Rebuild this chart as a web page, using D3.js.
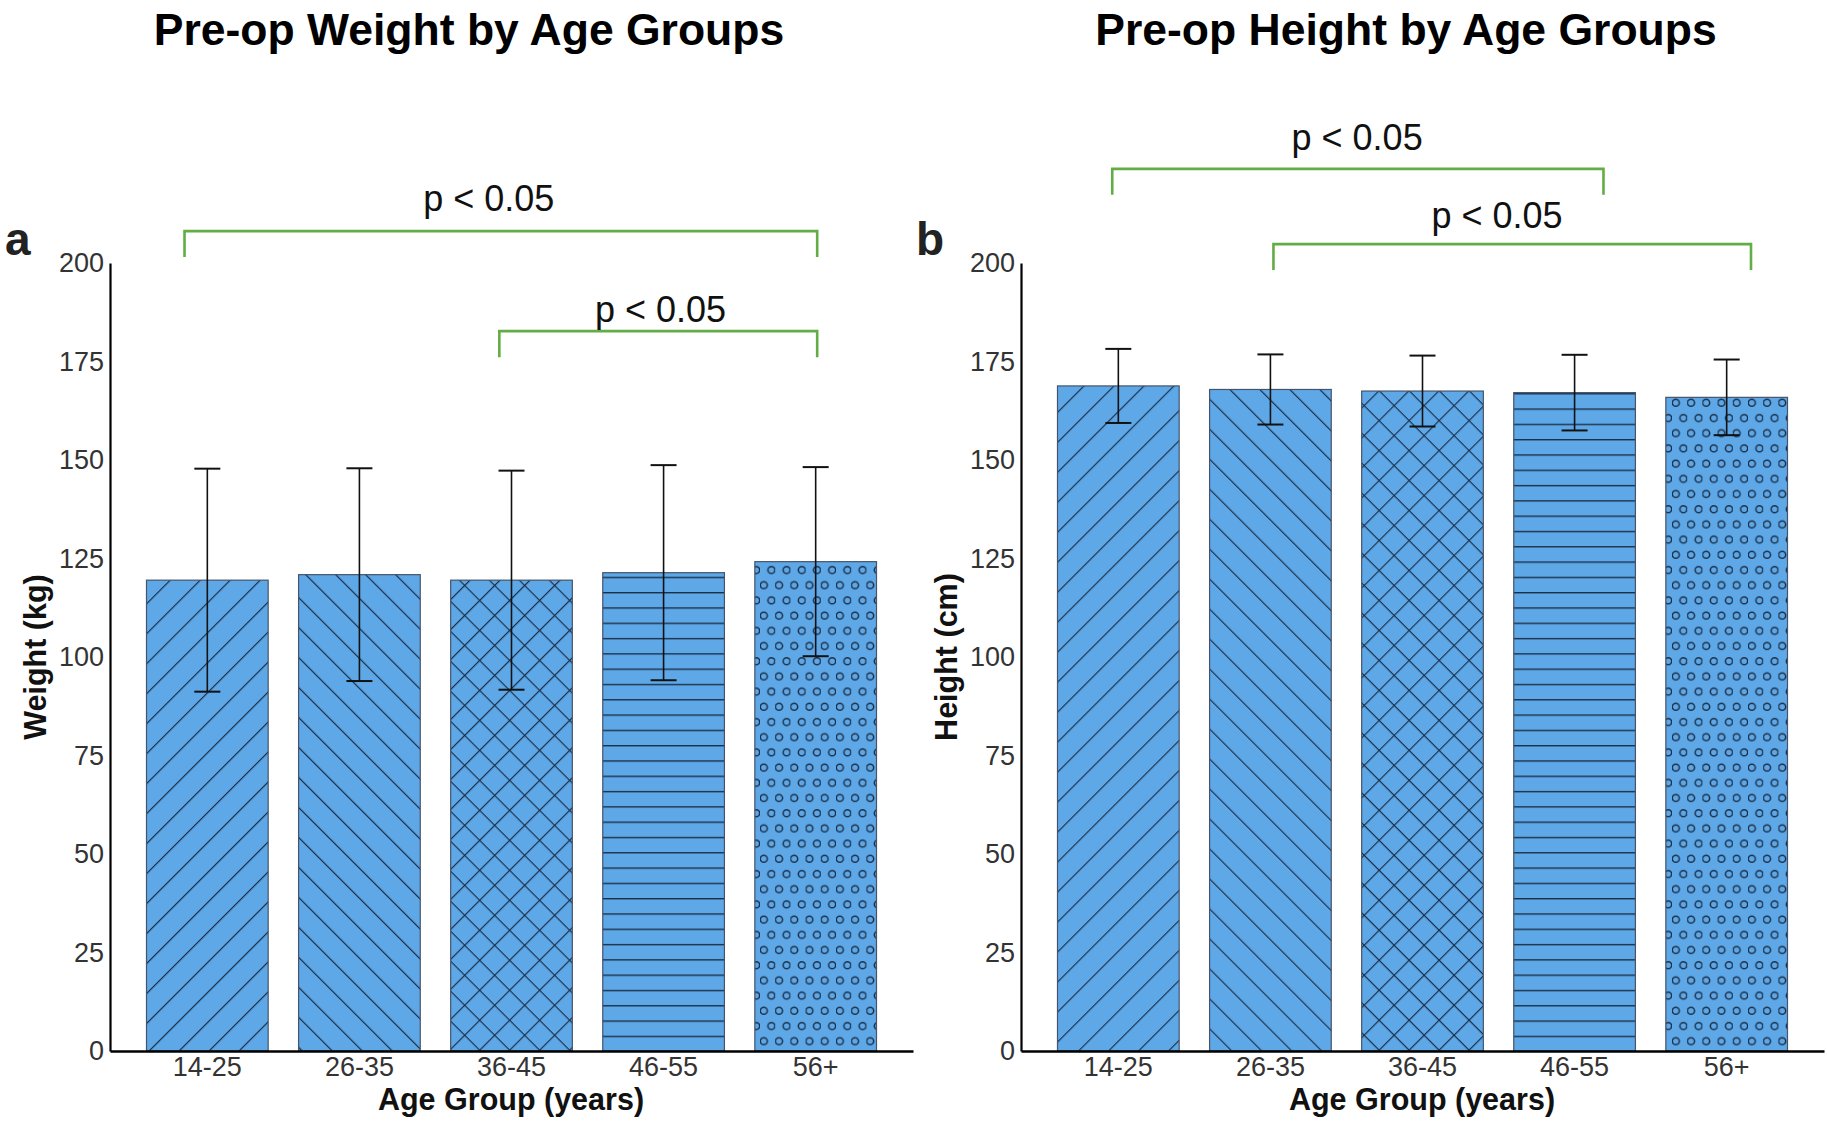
<!DOCTYPE html>
<html>
<head>
<meta charset="utf-8">
<script src="https://cdn.jsdelivr.net/npm/d3@7"></script>
<style>
  body { margin: 0; background: #fff; }
  text { font-family: "Liberation Sans", Arial, sans-serif; }
</style>
</head>
<body>
<svg id="chart" width="1827" height="1124"></svg>
<script>
// age groups on the x axis
var ageGroups = ["14-25", "26-35", "36-45", "46-55", "56+"];

// pre-op weight (kg), mean and sd
var weightMeans = [119.5, 120.9, 119.5, 121.4, 124.2];
var weightSD = [28.3, 27.0, 27.8, 27.3, 24.0];

// pre-op height (cm), mean and sd
var heightMeans = [168.8, 167.9, 167.5, 167.1, 165.9];
var heightSD = [9.4, 8.9, 9.0, 9.6, 9.6];

var yTicks = [0, 25, 50, 75, 100, 125, 150, 175, 200];
var hatches = ["fwd", "back", "cross", "horiz", "dots"];

// significance brackets: ends in category index units, level in data units
var weightSig = [
  { from: -0.15, to: 4.01, level: 208.1, textAt: 1.85, textLevel: 213.2, label: "p < 0.05" },
  { from: 1.92, to: 4.01, level: 182.7, textAt: 2.98, textLevel: 185.0, label: "p < 0.05" }
];
var heightSig = [
  { from: -0.04, to: 3.19, level: 223.9, textAt: 1.57, textLevel: 228.7, label: "p < 0.05" },
  { from: 1.02, to: 4.16, level: 204.8, textAt: 2.49, textLevel: 208.9, label: "p < 0.05" }
];

var svg = d3.select("#chart");
var barFill = "#5ea8e8";
var hatchColor = "#1c2f47";
var sigColor = "#62ad45";

// ---- hatch patterns ----
var defs = svg.append("defs");

function linePattern(id, angle) {
  var p = defs.append("pattern")
    .attr("id", id)
    .attr("patternUnits", "userSpaceOnUse")
    .attr("width", 21.2)
    .attr("height", 21.2)
    .attr("patternTransform", "rotate(" + angle + ")");
  p.append("line")
    .attr("x1", 0.6).attr("y1", -1).attr("x2", 0.6).attr("y2", 22.2)
    .attr("stroke", hatchColor).attr("stroke-width", 1.2);
}
linePattern("fwd", 45);
linePattern("back", -45);

var cross = defs.append("pattern")
  .attr("id", "cross")
  .attr("patternUnits", "userSpaceOnUse")
  .attr("width", 21.2)
  .attr("height", 21.2)
  .attr("patternTransform", "rotate(45)");
cross.append("line")
  .attr("x1", 0.6).attr("y1", -1).attr("x2", 0.6).attr("y2", 22.2)
  .attr("stroke", hatchColor).attr("stroke-width", 1.2);
cross.append("line")
  .attr("x1", -1).attr("y1", 0.6).attr("x2", 22.2).attr("y2", 0.6)
  .attr("stroke", hatchColor).attr("stroke-width", 1.2);

var horiz = defs.append("pattern")
  .attr("id", "horiz")
  .attr("patternUnits", "userSpaceOnUse")
  .attr("width", 20)
  .attr("height", 15.3)
  .attr("y", 1051);
horiz.append("line")
  .attr("x1", 0).attr("y1", 0.7).attr("x2", 20).attr("y2", 0.7)
  .attr("stroke", hatchColor).attr("stroke-width", 1.4);

var dots = defs.append("pattern")
  .attr("id", "dots")
  .attr("patternUnits", "userSpaceOnUse")
  .attr("width", 15.2)
  .attr("height", 30.4);
[[3.8, 7.6], [11.4, 22.8]].forEach(function (c) {
  dots.append("circle")
    .attr("cx", c[0]).attr("cy", c[1]).attr("r", 3.5)
    .attr("fill", "none").attr("stroke", hatchColor).attr("stroke-width", 1.5);
});

// ---- one panel ----
function drawPanel(opt) {
  var x = d3.scaleBand()
    .domain(ageGroups)
    .range([opt.left, opt.left + 803])
    .paddingInner(0.2)
    .paddingOuter(0.24);

  var y = d3.scaleLinear()
    .domain([0, 200])
    .range([1051, 263]);

  var bw = x.bandwidth();
  var center = function (i) {
    return x(ageGroups[0]) + bw / 2 + i * x.step();
  };

  var data = ageGroups.map(function (g, i) {
    return { group: g, mean: opt.means[i], sd: opt.sd[i], hatch: hatches[i] };
  });

  var g = svg.append("g");

  // title
  g.append("text")
    .attr("x", opt.titleX)
    .attr("y", 45)
    .attr("text-anchor", "middle")
    .attr("font-size", 44.5)
    .attr("font-weight", "bold")
    .attr("fill", "#000")
    .text(opt.title);

  // panel letter
  g.append("text")
    .attr("x", opt.left - 105)
    .attr("y", 255)
    .attr("font-size", 46)
    .attr("font-weight", "bold")
    .attr("fill", "#222")
    .text(opt.letter);

  // bars
  var bars = g.selectAll(".bar").data(data).enter();
  bars.append("rect")
    .attr("x", function (d) { return x(d.group); })
    .attr("y", function (d) { return y(d.mean); })
    .attr("width", bw)
    .attr("height", function (d) { return y(0) - y(d.mean); })
    .attr("fill", barFill);
  bars.append("rect")
    .attr("x", function (d) { return x(d.group); })
    .attr("y", function (d) { return y(d.mean); })
    .attr("width", bw)
    .attr("height", function (d) { return y(0) - y(d.mean); })
    .attr("fill", function (d) { return "url(#" + d.hatch + ")"; })
    .attr("stroke", "#45546a")
    .attr("stroke-width", 1.2);

  // error bars
  var err = g.selectAll(".err").data(data).enter().append("g");
  err.append("line")
    .attr("x1", function (d) { return x(d.group) + bw / 2; })
    .attr("x2", function (d) { return x(d.group) + bw / 2; })
    .attr("y1", function (d) { return y(d.mean - d.sd); })
    .attr("y2", function (d) { return y(d.mean + d.sd); })
    .attr("stroke", "#111").attr("stroke-width", 1.6);
  [1, -1].forEach(function (s) {
    err.append("line")
      .attr("x1", function (d) { return x(d.group) + bw / 2 - 13; })
      .attr("x2", function (d) { return x(d.group) + bw / 2 + 13; })
      .attr("y1", function (d) { return y(d.mean + s * d.sd); })
      .attr("y2", function (d) { return y(d.mean + s * d.sd); })
      .attr("stroke", "#111").attr("stroke-width", 2);
  });

  // y axis
  var yAxis = g.append("g")
    .attr("transform", "translate(" + opt.left + ",0)")
    .call(d3.axisLeft(y).tickValues(yTicks).tickSize(0).tickPadding(6));
  yAxis.select(".domain").attr("stroke", "#000").attr("stroke-width", 2.2);
  yAxis.selectAll("text")
    .attr("font-size", 27)
    .attr("fill", "#333")
    .style("font-family", "'Liberation Sans', Arial, sans-serif");

  // x axis
  var xAxis = g.append("g")
    .attr("transform", "translate(0," + y(0) + ")")
    .call(d3.axisBottom(x).tickSize(0).tickPadding(6));
  xAxis.select(".domain").attr("stroke", "#000").attr("stroke-width", 2.6);
  xAxis.selectAll("text")
    .attr("font-size", 27)
    .attr("fill", "#333")
    .style("font-family", "'Liberation Sans', Arial, sans-serif");

  // axis titles
  g.append("text")
    .attr("x", opt.left + 401)
    .attr("y", 1110)
    .attr("text-anchor", "middle")
    .attr("font-size", 30.5)
    .attr("font-weight", "bold")
    .attr("fill", "#111")
    .text("Age Group (years)");

  g.append("text")
    .attr("transform", "translate(" + (opt.left - 64) + "," + (y(100)) + ") rotate(-90)")
    .attr("text-anchor", "middle")
    .attr("font-size", 30.5)
    .attr("font-weight", "bold")
    .attr("fill", "#111")
    .text(opt.yLabel);

  // significance brackets
  opt.sig.forEach(function (s) {
    var x1 = center(s.from), x2 = center(s.to), yy = y(s.level);
    g.append("path")
      .attr("d", d3.line()([[x1, yy + 26], [x1, yy], [x2, yy], [x2, yy + 26]]))
      .attr("fill", "none")
      .attr("stroke", sigColor)
      .attr("stroke-width", 2.6);
    g.append("text")
      .attr("x", center(s.textAt))
      .attr("y", y(s.textLevel))
      .attr("text-anchor", "middle")
      .attr("font-size", 36)
      .attr("fill", "#111")
      .text(s.label);
  });
}

drawPanel({
  left: 110,
  titleX: 469,
  letter: "a",
  title: "Pre-op Weight by Age Groups",
  yLabel: "Weight (kg)",
  means: weightMeans,
  sd: weightSD,
  sig: weightSig
});

drawPanel({
  left: 1021,
  titleX: 1406,
  letter: "b",
  title: "Pre-op Height by Age Groups",
  yLabel: "Height (cm)",
  means: heightMeans,
  sd: heightSD,
  sig: heightSig
});
</script>
</body>
</html>
